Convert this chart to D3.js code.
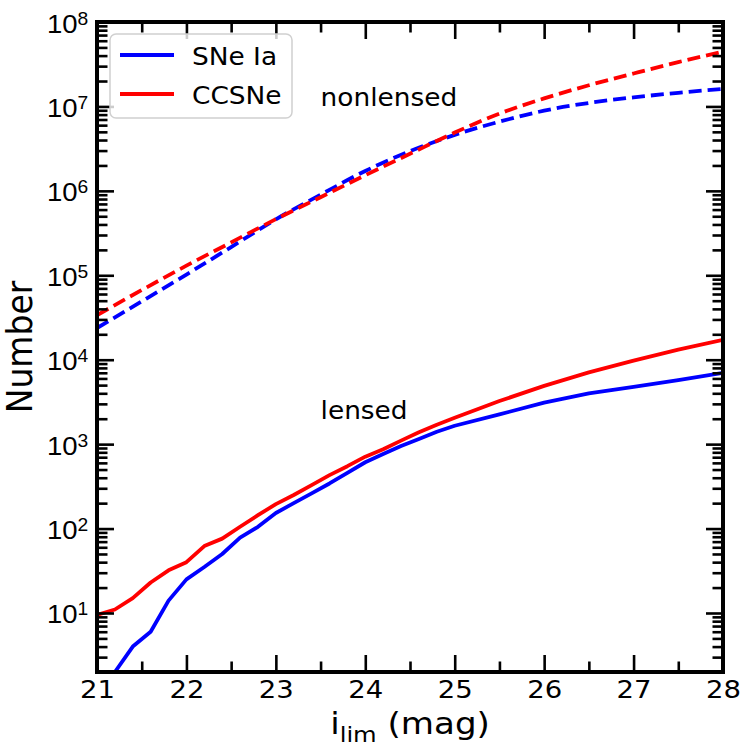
<!DOCTYPE html>
<html>
<head>
<meta charset="utf-8">
<script src="https://cdn.jsdelivr.net/npm/d3@7"></script>
<style>
    html, body { margin: 0; padding: 0; background: #fff; }
    svg { display: block; }
</style>
</head>
<body>
<div id="chart"></div>
<script>
// Limiting magnitude grid for the lensed curves (fine steps at the faint end of the sample)
const magLensed = [21.0, 21.2, 21.4, 21.6, 21.8, 22.0, 22.2, 22.4, 22.6, 22.8, 23.0, 23.2, 23.4, 23.6,
    23.8, 24.0, 24.2, 24.4, 24.6, 24.8, 25.0, 25.5, 26.0, 26.5, 27.0, 27.5, 28.0];
const snIaLensed = [1.0, 2.0, 4.0, 6.0, 14, 25, 35, 50, 78, 105, 153, 200, 261, 342,
    457, 610, 765, 950, 1150, 1400, 1650, 2250, 3100, 3990, 4770, 5730, 7000];
const ccsnLensed = [9.5, 11, 15, 23, 32, 40, 62, 76, 105, 144, 195, 250, 327, 430,
    548, 710, 870, 1100, 1380, 1700, 2050, 3240, 4900, 7080, 9770, 13180, 17200];

// Nonlensed counts
const magNonlensed = [21.0, 21.5, 22.0, 22.5, 23.0, 23.5, 24.0, 24.5, 25.0, 25.5, 26.0, 26.5, 27.0, 27.5, 28.0];
const snIaNonlensed = [23700, 49000, 102000, 216000, 460000, 900000, 1.72e6, 2.95e6, 4.6e6, 6.6e6,
    8.9e6, 1.1e7, 1.28e7, 1.45e7, 1.61e7];
const ccsnNonlensed = [33700, 66800, 130000, 245000, 462000, 841000, 1.53e6, 2.75e6, 4.9e6, 8.22e6,
    1.245e7, 1.78e7, 2.455e7, 3.35e7, 4.45e7];

// Tick labels and legend entries
const xTicks = [21, 22, 23, 24, 25, 26, 27, 28];
const yTickExponents = [1, 2, 3, 4, 5, 6, 7, 8];
const seriesNames = ["SNe Ia", "CCSNe"];
const annotations = [
    { text: "nonlensed", mag: 23.5, value: 1e7 },
    { text: "lensed", mag: 23.5, value: 2e3 }
];

// Global configuration object
const config = {
    width: 747, height: 747,
    margin: { top: 22, right: 24, bottom: 75, left: 97 },
    colors: ["#0000ff", "#ff0000"],
    font: "DejaVu Sans",
    stretch: 1.1, // the picture is a bit wider than tall, so text is widened too
    lineWidth: 3.8
};

const innerW = config.width - config.margin.left - config.margin.right;
const innerH = config.height - config.margin.top - config.margin.bottom;

// D3 scales: magnitude -> pixels, counts (log) -> pixels
const x = d3.scaleLinear().domain([21, 28]).range([0, innerW]);
const y = d3.scaleLog().domain([2, 1e8]).range([innerH, 0]);

const svg = d3.select("#chart").append("svg")
    .attr("width", config.width)
    .attr("height", config.height)
    .style("font-family", config.font);

const plot = svg.append("g")
    .attr("transform", `translate(${config.margin.left},${config.margin.top})`);

plot.append("clipPath").attr("id", "clip")
    .append("rect").attr("width", innerW).attr("height", innerH);

// Curves
const line = d3.line().x(d => x(d[0])).y(d => y(d[1]));
const smooth = d3.line().x(d => x(d[0])).y(d => y(d[1])).curve(d3.curveMonotoneX);

const curves = plot.append("g").attr("clip-path", "url(#clip)");

[snIaNonlensed, ccsnNonlensed].forEach((vals, i) => {
    curves.append("path")
        .attr("d", smooth(d3.zip(magNonlensed, vals)))
        .attr("fill", "none")
        .attr("stroke", config.colors[i])
        .attr("stroke-width", config.lineWidth)
        .attr("stroke-dasharray", "13,6");
});

[snIaLensed, ccsnLensed].forEach((vals, i) => {
    curves.append("path")
        .attr("d", line(d3.zip(magLensed, vals)))
        .attr("fill", "none")
        .attr("stroke", config.colors[i])
        .attr("stroke-width", config.lineWidth)
        .attr("stroke-linejoin", "round");
});

// Minor tick values
const xMinor = d3.range(21.5, 28, 1);
const yMinor = [];
for (let e = 0; e < 8; e++) {
    for (let m = 2; m <= 9; m++) {
        const v = m * Math.pow(10, e);
        if (v >= 2 && v <= 1e8) yMinor.push(v);
    }
}
const yMajor = yTickExponents.map(e => Math.pow(10, e));

function styleAxis(g) {
    g.select(".domain").remove();
    g.selectAll(".tick line").attr("stroke", "#000").attr("stroke-width", 2.6);
}

// Bottom axis with labels
const xAxisG = plot.append("g").attr("transform", `translate(0,${innerH})`)
    .call(d3.axisBottom(x).tickValues(xTicks).tickSize(-17).tickFormat(d3.format("d")))
    .call(styleAxis);
xAxisG.selectAll(".tick text")
    .attr("y", 26).attr("dy", null)
    .attr("font-size", 25).attr("fill", "#000")
    .attr("font-family", config.font)
    .attr("transform", `scale(${config.stretch},1)`);
plot.append("g").attr("transform", `translate(0,${innerH})`)
    .call(d3.axisBottom(x).tickValues(xMinor).tickSize(-10.5).tickFormat(""))
    .call(styleAxis);

// Top axis, ticks only
plot.append("g")
    .call(d3.axisTop(x).tickValues(xTicks).tickSize(-17).tickFormat(""))
    .call(styleAxis);
plot.append("g")
    .call(d3.axisTop(x).tickValues(xMinor).tickSize(-10.5).tickFormat(""))
    .call(styleAxis);

// Left axis with 10^n labels
const yAxisG = plot.append("g")
    .call(d3.axisLeft(y).tickValues(yMajor).tickSize(-17).tickFormat(""))
    .call(styleAxis);
yAxisG.selectAll(".tick text").remove();
yAxisG.selectAll(".tick").each(function (d) {
    const t = d3.select(this).append("text")
        .attr("x", -8).attr("y", 10)
        .attr("text-anchor", "end")
        .attr("font-size", 25)
        .attr("fill", "#000")
        .attr("transform", `scale(${config.stretch},1)`)
        .text("10");
    t.append("tspan")
        .attr("dy", -8)
        .attr("font-size", 17.5)
        .text(Math.round(Math.log10(d)));
});
plot.append("g")
    .call(d3.axisLeft(y).tickValues(yMinor).tickSize(-10.5).tickFormat(""))
    .call(styleAxis);

// Right axis, ticks only
plot.append("g").attr("transform", `translate(${innerW},0)`)
    .call(d3.axisRight(y).tickValues(yMajor).tickSize(-17).tickFormat(""))
    .call(styleAxis);
plot.append("g").attr("transform", `translate(${innerW},0)`)
    .call(d3.axisRight(y).tickValues(yMinor).tickSize(-10.5).tickFormat(""))
    .call(styleAxis);

// Frame
plot.append("rect")
    .attr("width", innerW).attr("height", innerH)
    .attr("fill", "none").attr("stroke", "#000").attr("stroke-width", 4);

// Annotations
annotations.forEach(a => {
    plot.append("text")
        .attr("transform", `translate(${x(a.mag)},${y(a.value)}) scale(${config.stretch},1)`)
        .attr("font-size", 24)
        .attr("fill", "#000")
        .text(a.text);
});

// Legend
const legend = svg.append("g").attr("transform", "translate(110,34)");
legend.append("rect")
    .attr("width", 182).attr("height", 84).attr("rx", 6)
    .attr("fill", "#fff").attr("fill-opacity", 0.8)
    .attr("stroke", "#d0d0d0").attr("stroke-width", 1.5);
seriesNames.forEach((name, i) => {
    const ly = 21 + i * 39;
    legend.append("line")
        .attr("x1", 10).attr("x2", 64).attr("y1", ly).attr("y2", ly)
        .attr("stroke", config.colors[i]).attr("stroke-width", config.lineWidth);
    legend.append("text")
        .attr("transform", `translate(82,${ly + 10}) scale(${config.stretch},1)`)
        .attr("font-size", 24)
        .attr("fill", "#000")
        .text(name);
});

// Axis titles
const xTitle = svg.append("text")
    .attr("transform", `translate(${config.margin.left + innerW / 2},734) scale(${config.stretch},1)`)
    .attr("text-anchor", "middle")
    .attr("font-size", 31)
    .attr("fill", "#000");
xTitle.append("tspan").text("i");
xTitle.append("tspan").attr("dy", 8).attr("font-size", 22).text("lim");
xTitle.append("tspan").attr("dy", -8).text(" (mag)");

svg.append("text")
    .attr("transform", `translate(32,${config.margin.top + innerH / 2}) scale(${config.stretch},1) rotate(-90)`)
    .attr("text-anchor", "middle")
    .attr("font-size", 33)
    .attr("fill", "#000")
    .text("Number");
</script>
</body>
</html>
